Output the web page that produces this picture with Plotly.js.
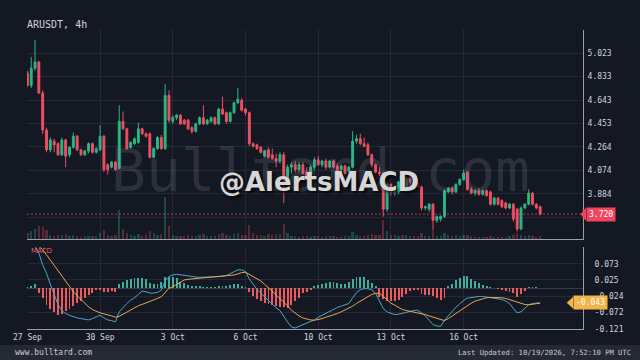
<!DOCTYPE html>
<html>
<head>
<meta charset="utf-8">
<script src="https://cdn.plot.ly/plotly-3.0.1.min.js"></script>
<style>html,body{margin:0;padding:0;background:#141822;}#chart{width:640px;height:360px;}</style>
</head>
<body>
<div id="chart"></div>
<script>
// ---- data ----
const symbolTitle = 'ARUSDT, 4h';
const openP = [4.86,4.76,4.90,4.95,4.70,4.40,4.24,4.31,4.29,4.20,4.32,4.20,4.26,4.35,4.24,4.20,4.23,4.29,4.22,4.24,
4.35,4.12,4.10,4.14,4.09,4.47,4.41,4.26,4.29,4.30,4.41,4.37,4.37,4.18,4.25,4.34,4.25,4.68,4.47,4.50,
4.52,4.48,4.48,4.42,4.39,4.45,4.50,4.45,4.47,4.50,4.45,4.57,4.54,4.47,4.54,4.62,4.64,4.57,4.54,4.29,
4.28,4.26,4.19,4.24,4.20,4.17,4.15,4.20,3.97,4.10,4.12,4.08,4.12,4.06,4.02,4.10,4.16,4.12,4.15,4.10,
4.15,4.11,4.08,4.11,4.07,4.10,4.31,4.33,4.29,4.28,4.20,4.12,4.06,4.05,3.76,3.96,3.89,3.90,3.98,3.92,
4.01,3.98,3.97,3.94,3.77,3.76,3.80,3.67,3.68,3.70,3.90,3.93,3.90,3.96,4.00,4.06,3.92,3.89,3.91,3.88,
3.91,3.90,3.80,3.85,3.83,3.81,3.77,3.80,3.76,3.60,3.77,3.80,3.89,3.80,3.78];
const highP = [4.88,4.99,5.13,4.96,4.72,4.42,4.34,4.33,4.30,4.34,4.33,4.27,4.38,4.36,4.25,4.24,4.30,4.30,4.26,4.44,
4.36,4.13,4.15,4.15,4.60,4.55,4.42,4.31,4.34,4.46,4.42,4.38,4.38,4.26,4.35,4.36,4.77,4.72,4.52,4.53,
4.53,4.49,4.49,4.43,4.46,4.51,4.60,4.49,4.51,4.51,4.58,4.67,4.55,4.55,4.63,4.74,4.66,4.58,4.55,4.30,
4.29,4.27,4.24,4.26,4.25,4.21,4.22,4.22,4.12,4.14,4.15,4.14,4.14,4.10,4.12,4.18,4.19,4.16,4.17,4.16,
4.16,4.13,4.12,4.12,4.11,4.39,4.36,4.37,4.34,4.30,4.21,4.13,4.10,4.06,3.98,3.97,3.95,3.99,3.99,4.03,
4.03,3.99,3.98,3.95,3.79,3.81,3.81,3.71,3.71,3.92,3.94,3.94,3.97,4.01,4.08,4.07,3.94,3.92,3.93,3.92,
3.92,3.91,3.86,3.86,3.84,3.82,3.81,3.81,3.77,3.78,3.81,3.92,3.90,3.81,3.79];
const lowP = [4.75,4.74,4.88,4.69,4.37,4.22,4.22,4.22,4.19,4.19,4.10,4.18,4.25,4.23,4.19,4.19,4.21,4.21,4.21,4.23,
4.06,4.04,4.09,4.07,4.08,4.40,4.24,4.25,4.28,4.29,4.36,4.34,4.17,4.17,4.24,4.24,4.24,4.46,4.45,4.48,
4.44,4.44,4.40,4.37,4.38,4.44,4.44,4.44,4.46,4.44,4.44,4.52,4.45,4.46,4.53,4.61,4.55,4.52,4.27,4.26,
4.24,4.21,4.18,4.17,4.16,4.10,4.13,3.81,3.95,4.05,4.06,4.06,4.04,3.99,4.00,4.08,4.11,4.10,4.08,4.09,
4.09,4.04,4.05,4.04,4.05,4.09,4.29,4.28,4.26,4.19,4.10,4.05,4.03,3.70,3.74,3.87,3.87,3.88,3.91,3.90,
3.96,3.93,3.93,3.75,3.75,3.74,3.59,3.65,3.66,3.69,3.89,3.88,3.89,3.95,3.99,3.91,3.88,3.87,3.87,3.87,
3.86,3.79,3.79,3.79,3.77,3.76,3.76,3.66,3.58,3.59,3.76,3.79,3.79,3.76,3.71];
const closeP = [4.76,4.90,4.95,4.70,4.40,4.24,4.32,4.28,4.20,4.32,4.19,4.26,4.35,4.24,4.20,4.23,4.29,4.22,4.25,4.35,
4.08,4.08,4.14,4.08,4.47,4.41,4.25,4.30,4.33,4.41,4.37,4.35,4.18,4.25,4.34,4.25,4.68,4.48,4.50,4.52,
4.45,4.45,4.41,4.39,4.45,4.50,4.45,4.48,4.50,4.45,4.57,4.53,4.47,4.54,4.62,4.65,4.56,4.54,4.29,4.27,
4.25,4.22,4.23,4.18,4.17,4.15,4.20,3.97,4.10,4.12,4.08,4.12,4.05,4.02,4.10,4.16,4.12,4.15,4.10,4.15,
4.10,4.06,4.11,4.05,4.10,4.31,4.33,4.29,4.27,4.20,4.12,4.06,4.05,3.76,3.96,3.89,3.93,3.98,3.92,4.01,
3.98,3.94,3.94,3.77,3.78,3.80,3.67,3.70,3.70,3.91,3.93,3.90,3.96,4.00,4.05,3.92,3.89,3.91,3.88,3.91,
3.87,3.80,3.85,3.80,3.78,3.77,3.80,3.68,3.60,3.77,3.80,3.89,3.80,3.77,3.72];
const volume = [15,18,25,30,28,22,10,8,9,10,12,6,9,8,5,6,7,6,8,14,
22,10,8,9,70,25,14,10,6,12,8,10,18,14,10,12,100,30,10,8,
7,6,9,8,7,9,12,6,8,7,12,14,9,8,12,15,10,9,33,14,
10,9,7,12,10,12,11,35,14,8,6,5,7,6,5,8,6,5,7,6,
6,5,5,6,8,16,9,8,7,10,12,9,10,45,20,10,9,8,10,9,
7,6,7,14,6,7,18,8,7,14,10,6,9,8,10,9,6,5,4,5,
5,7,5,4,5,5,6,9,14,10,8,9,6,5,7];
// MACD values in thousandths
const macdLine = [170,150,125,105,70,45,12,-20,-48,-66,-75,-80,-85,-88,-90,-93,-94,-90,-86,-80,
-88,-94,-96,-100,-70,-56,-45,-35,-28,-18,-8,-10,-14,-14,-12,-5,22,35,40,42,
40,38,37,35,34,33,33,33,34,33,35,36,38,44,50,55,55,50,28,12,
-3,-14,-25,-38,-48,-58,-66,-85,-100,-115,-118,-113,-108,-104,-100,-94,-86,-80,-74,-69,
-63,-57,-53,-50,-45,-28,-12,-4,-1,-1,-4,-15,-37,-60,-70,-74,-78,-77,-74,-72,
-69,-66,-65,-74,-82,-95,-108,-112,-113,-95,-82,-68,-56,-46,-36,-29,-27,-25,-24,-24,
-26,-28,-29,-30,-33,-38,-45,-60,-73,-70,-58,-49,-45,-43,-43];
const signalLine = [150,140,132,125,115,100,84,70,52,35,22,5,-10,-22,-34,-45,-55,-63,-69,-73,
-76,-78,-82,-86,-83,-77,-70,-63,-58,-52,-48,-44,-38,-34,-30,-25,-11,0,5,12,
20,25,27,28,28,29,30,31,32,33,34,35,36,38,40,43,47,48,42,35,
28,22,12,3,-8,-20,-30,-40,-52,-65,-74,-82,-88,-92,-94,-95,-93,-90,-86,-83,
-80,-75,-70,-65,-60,-53,-45,-38,-30,-24,-18,-15,-14,-24,-35,-44,-50,-57,-63,-66,
-68,-70,-72,-75,-78,-82,-86,-90,-94,-96,-90,-82,-75,-67,-58,-50,-44,-38,-34,-30,
-28,-27,-27,-27,-28,-30,-34,-38,-42,-46,-48,-49,-48,-46,-44];
const histo = [5,8,13,-15,-30,-50,-62,-70,-80,-75,-68,-60,-52,-45,-39,-30,-21,-13,-6,-4,
-10,-10,-9,-10,12,20,25,27,30,30,30,28,15,12,12,20,33,35,35,30,
20,15,11,8,7,6,5,4,4,4,6,7,8,10,12,12,8,5,-12,-24,
-32,-38,-43,-47,-49,-52,-54,-55,-58,-50,-39,-28,-15,-10,-5,6,11,14,17,19,
20,16,12,13,18,27,34,35,33,26,15,6,-25,-33,-38,-39,-37,-34,-26,-16,
-8,-4,-5,-16,-20,-21,-24,-29,-35,-28,8,14,24,32,37,36,28,22,16,11,
7,4,2,-3,-5,-8,-10,-15,-25,-16,-8,3,3,3,2];
const dateTickIdx = [0,19,38,57,76,95,114];
const dateTickText = ['27 Sep','30 Sep','3 Oct','6 Oct','10 Oct','13 Oct','16 Oct'];
const priceTicks = [5.023,4.833,4.643,4.453,4.264,4.074,3.884,3.694];
const macdTicks = [0.073,0.025,-0.024,-0.072,-0.121];
const lastPrice = 3.720;
const lastMacd = -0.043;
const footerLeft = 'www.bulltard.com';
const footerRight = 'Last Updated: 10/19/2026, 7:52:10 PM UTC';

// ---- build ----
const idx = closeP.map((_, i) => i);
const G = '#29b886', R = '#ef4f64';
const dirColors = closeP.map((c, i) => c >= openP[i] ? 'rgba(41,184,134,0.32)' : 'rgba(239,79,100,0.32)');
const macdV = macdLine.map(v => v / 1000);
const sigV = signalLine.map(v => v / 1000);
const histV = histo.map(v => v / 1000);
const histColors = histV.map(v => v >= 0 ? '#3fae9f' : '#ee5a5e');
const mono = 'DejaVu Sans Mono, monospace';
const tickCol = '#d1d4dc';
const gridCol = '#242935';
const lineCol = '#9a9ea8';

const traces = [
  {type:'bar', x: idx, y: volume, xaxis:'x', yaxis:'y2', marker:{color: dirColors, line:{width:0}}, width:0.6, hoverinfo:'skip'},
  {type:'candlestick', x: idx, open: openP, high: highP, low: lowP, close: closeP, xaxis:'x', yaxis:'y',
   increasing:{line:{color:G, width:1}, fillcolor:G}, decreasing:{line:{color:R, width:1}, fillcolor:R}, whiskerwidth:0},
  {type:'bar', x: idx, y: histV, xaxis:'x2', yaxis:'y3', marker:{color: histColors, line:{width:0}}, width:0.5},
  {type:'scatter', mode:'lines', x: idx, y: macdV, xaxis:'x2', yaxis:'y3', line:{color:'#4aa6cc', width:1}},
  {type:'scatter', mode:'lines', x: idx, y: sigV, xaxis:'x2', yaxis:'y3', line:{color:'#e8a653', width:1}}
];

const xr = [-0.1, 145.2];
const layout = {
  width:640, height:360, paper_bgcolor:'#141822', plot_bgcolor:'#141822',
  margin:{l:27, r:57, t:30, b:31}, showlegend:false, bargap:0,
  title:{text: symbolTitle, x: 27/640, xanchor:'left', y: 1 - 24/360, yanchor:'middle', font:{family:mono, size:10, color:tickCol}},
  xaxis:{domain:[0,1], anchor:'y', range: xr, rangeslider:{visible:false}, tickvals: dateTickIdx, showticklabels:false,
    showgrid:true, gridcolor:gridCol, zeroline:false, showline:true, linecolor:lineCol, linewidth:1, ticks:''},
  xaxis2:{domain:[0,1], anchor:'y3', range: xr, matches:'x', tickvals: dateTickIdx, ticktext: dateTickText,
    tickfont:{family:mono, size:8, color:tickCol}, showgrid:true, gridcolor:gridCol, zeroline:false, showline:true, linecolor:lineCol, linewidth:1, ticks:''},
  yaxis:{domain:[0.301,1], anchor:'x', side:'right', range:[3.519, 5.209], tickvals: priceTicks, ticktext: priceTicks.map(v => v.toFixed(3)),
    tickfont:{family:mono, size:8, color:tickCol}, showgrid:true, gridcolor:gridCol, zeroline:false, showline:true, linecolor:lineCol, ticks:'', ticklabelstandoff:2},
  yaxis2:{domain:[0.301,1], overlaying:'y', range:[0,500], visible:false},
  yaxis3:{domain:[0,0.274], anchor:'x2', side:'right', range:[-0.121, 0.123], tickvals: macdTicks, ticktext: macdTicks.map(v => v.toFixed(3)),
    tickfont:{family:mono, size:8, color:tickCol}, showgrid:true, gridcolor:gridCol, zeroline:true, zerolinecolor:'#363b47', showline:true, linecolor:lineCol, ticks:'', ticklabelstandoff:9},
  shapes:[
    {type:'line', xref:'paper', yref:'y', x0:0, x1:1, y0:lastPrice, y1:lastPrice, line:{color:'rgba(242,70,95,0.75)', width:1, dash:'2px,2px'}},
    {type:'path', xref:'paper', yref:'y', path:`M 0.9955 ${lastPrice} L 1.0055 ${lastPrice+0.056} L 1.0055 ${lastPrice-0.056} Z`, fillcolor:'#f2455d', line:{width:0}},
    {type:'path', xref:'paper', yref:'y3', path:`M 0.9707 ${lastMacd} L 0.9825 ${lastMacd+0.018} L 0.9825 ${lastMacd-0.018} Z`, fillcolor:'#f3b44a', line:{width:0}},
    {type:'rect', xref:'paper', yref:'paper', x0:-0.06, x1:1.12, y0:-0.11, y1:-0.0535, fillcolor:'#252933', line:{width:0}}
  ],
  annotations:[
    {xref:'paper', yref:'paper', x:0.527, y:0.53, xanchor:'center', yanchor:'middle', text:'Bulltard.com', showarrow:false,
      font:{family:mono, size:58, color:'rgba(140,145,160,0.2)'}},
    {xref:'paper', yref:'paper', x:0.525, y:0.49, xanchor:'center', yanchor:'middle', text:'@AlertsMACD', showarrow:false,
      font:{family:'DejaVu Sans', size:26, color:'#d6d6d6', weight:'bold', shadow:'2px 2px 3px rgba(0,0,0,0.85)'}},
    {xref:'paper', yref:'y', x:1.0055, y:lastPrice, xanchor:'left', yanchor:'middle', text: lastPrice.toFixed(3), showarrow:false,
      bgcolor:'#f2455d', borderpad:2, font:{family:mono, size:8, color:'#ffffff'}},
    {xref:'paper', yref:'y3', x:0.9825, y:lastMacd, xanchor:'left', yanchor:'middle', text: lastMacd.toFixed(3), showarrow:false,
      bgcolor:'#f3b44a', borderpad:2, font:{family:mono, size:8, color:'#ffffff'}},
    {xref:'paper', yref:'paper', x:0.003, y:0.2625, xanchor:'left', yanchor:'middle', text:'MACD', showarrow:false,
      font:{family:'DejaVu Sans', size:7, color:'#f0566a'}},
    {xref:'paper', yref:'paper', x:(13-27)/556, y:-0.079, xanchor:'left', yanchor:'middle', text: footerLeft, showarrow:false,
      font:{family:mono, size:8, color:'#c9ccd2'}},
    {xref:'paper', yref:'paper', x:(633-27)/556, y:-0.079, xanchor:'right', yanchor:'middle', text: footerRight, showarrow:false,
      font:{family:mono, size:7.2, color:'#c9ccd2'}}
  ]
};
Plotly.newPlot('chart', traces, layout, {displayModeBar:false, staticPlot:true});
</script>
</body>
</html>
